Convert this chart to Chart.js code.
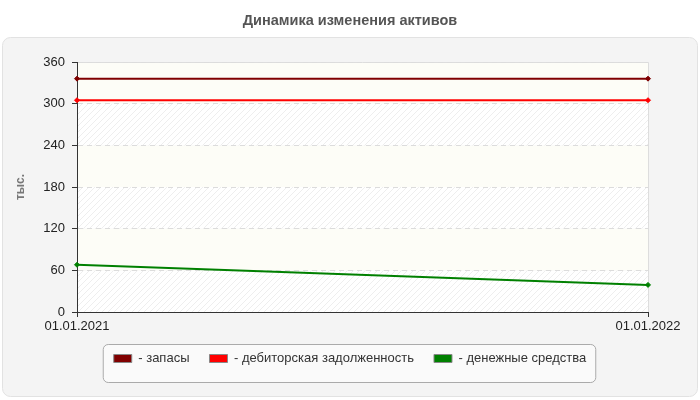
<!DOCTYPE html>
<html>
<head>
<meta charset="utf-8">
<script src="https://cdn.jsdelivr.net/npm/chart.js@4"></script>
<style>
  body { margin: 0; background: #fff; }
  #wrap { width: 700px; height: 400px; }
</style>
</head>
<body>
<div id="wrap"><canvas id="grafico"></canvas></div>
<script>
// данные с картинки
const dates = ['01.01.2021', '01.01.2022'];
const zapasy = [336, 336];
const debitorka = [305, 305];
const dengi = [68, 39];
const seriesNames = ['запасы', 'дебиторская задолженность', 'денежные средства'];
const seriesColors = ['#800000', '#ff0000', '#008000'];
const yMin = 0, yMax = 360, yStep = 60;

const FONT = "Arial, 'Liberation Sans', sans-serif";

// штриховка для полос фона
const tile = document.createElement('canvas');
tile.width = 6; tile.height = 6;
const tc = tile.getContext('2d');
tc.fillStyle = '#ffffff';
tc.fillRect(0, 0, 6, 6);
tc.strokeStyle = '#eeeeee';
tc.lineWidth = 1;
tc.beginPath();
tc.moveTo(-1, 7); tc.lineTo(7, -1);
tc.moveTo(-1, 1); tc.lineTo(1, -1);
tc.moveTo(5, 7); tc.lineTo(7, 5);
tc.stroke();

function roundRect(ctx, x, y, w, h, r) {
    ctx.beginPath();
    ctx.moveTo(x + r, y);
    ctx.arcTo(x + w, y, x + w, y + h, r);
    ctx.arcTo(x + w, y + h, x, y + h, r);
    ctx.arcTo(x, y + h, x, y, r);
    ctx.arcTo(x, y, x + w, y, r);
    ctx.closePath();
}

const fundo = {
    id: 'fundo',
    afterLayout(chart) {
        // заголовок и легенда центрируются по всей ширине холста
        [chart.titleBlock, chart.legend].forEach(b => {
            if (!b) return;
            b.left = 0;
            b.right = chart.width;
            b.width = chart.width;
        });
    },
    beforeDraw(chart) {
        const ctx = chart.ctx;
        const area = chart.chartArea;
        const y = chart.scales.y;
        ctx.save();
        // панель
        roundRect(ctx, 2.5, 37.5, 695, 359, 8);
        ctx.fillStyle = '#f4f4f4';
        ctx.fill();
        ctx.strokeStyle = '#e2e2e2';
        ctx.lineWidth = 1;
        ctx.stroke();

        // полосы
        const pattern = ctx.createPattern(tile, 'repeat');
        let i = 0;
        for (let v = yMin; v < yMax; v += yStep) {
            const top = y.getPixelForValue(v + yStep);
            const bottom = y.getPixelForValue(v);
            ctx.fillStyle = (i % 2 === 0) ? pattern : '#fdfdf7';
            ctx.fillRect(area.left, top, area.right - area.left, bottom - top);
            i++;
        }
        ctx.strokeStyle = '#dddddd';
        ctx.beginPath();
        ctx.moveTo(area.left, area.top + 0.5);
        ctx.lineTo(area.right + 0.5, area.top + 0.5);
        ctx.lineTo(area.right + 0.5, area.bottom);
        ctx.stroke();

        // рамка легенды
        const boxes = chart.legend.legendHitBoxes;
        if (boxes && boxes.length) {
            let l = Infinity, r = -Infinity;
            boxes.forEach(b => {
                l = Math.min(l, b.left);
                r = Math.max(r, b.left + b.width);
            });
            const t = boxes[0].top;
            roundRect(ctx, l - 10.5, t - 7.5, (r - l) + 20, 38, 5);
            ctx.fillStyle = '#fafafa';
            ctx.fill();
            ctx.strokeStyle = '#aaaaaa';
            ctx.stroke();
        }
        ctx.restore();
    }
};

const contexto = document.getElementById('grafico').getContext('2d');

const grafico = new Chart(contexto, {
    type: 'line',
    data: {
        labels: dates,
        datasets: [zapasy, debitorka, dengi].map((d, i) => ({
            label: seriesNames[i],
            data: d,
            borderColor: seriesColors[i],
            backgroundColor: seriesColors[i],
            borderWidth: 2,
            tension: 0,
            pointStyle: 'rectRot',
            pointRadius: 2.5,
            pointBackgroundColor: seriesColors[i],
            pointBorderColor: seriesColors[i],
            pointBorderWidth: 1
        }))
    },
    options: {
        responsive: true,
        maintainAspectRatio: false,
        animation: false,
        layout: {
            padding: { left: 0, right: 52, top: 0, bottom: 25 }
        },
        scales: {
            x: {
                offset: false,
                afterFit: (s) => { s.height = 20; },
                grid: {
                    drawOnChartArea: false,
                    tickLength: 5,
                    tickColor: '#333'
                },
                border: { color: '#333', width: 1 },
                ticks: {
                    color: '#222',
                    padding: 2,
                    maxRotation: 0,
                    autoSkip: false,
                    font: { family: FONT, size: 13 }
                }
            },
            y: {
                min: yMin,
                max: yMax,
                afterFit: (s) => { s.width = 77; },
                grid: {
                    color: '#dcdcdc',
                    tickColor: '#333',
                    tickLength: 5
                },
                border: { color: '#333', width: 1, dash: [5, 4] },
                ticks: {
                    stepSize: yStep,
                    color: '#222',
                    padding: 7,
                    font: { family: FONT, size: 13 }
                },
                title: {
                    display: true,
                    text: 'тыс.',
                    color: '#777',
                    padding: { top: 13, bottom: 0 },
                    font: { family: FONT, size: 12, weight: 'bold' }
                }
            }
        },
        plugins: {
            title: {
                display: true,
                text: 'Динамика изменения активов',
                color: '#555',
                padding: { top: 12, bottom: 32.6 },
                font: { family: FONT, size: 14.5, weight: 'bold' }
            },
            legend: {
                display: true,
                position: 'bottom',
                labels: {
                    color: '#333',
                    padding: 20,
                    boxWidth: 18,
                    boxHeight: 8,
                    useBorderRadius: true,
                    borderRadius: 3,
                    font: { family: FONT, size: 13 },
                    generateLabels: (chart) => chart.data.datasets.map((ds, i) => ({
                        text: '- ' + ds.label,
                        fillStyle: ds.borderColor,
                        strokeStyle: '#888',
                        lineWidth: 1,
                        fontColor: '#333',
                        datasetIndex: i,
                        hidden: false
                    }))
                }
            },
            tooltip: { enabled: false }
        }
    },
    plugins: [fundo]
});
</script>
</body>
</html>
